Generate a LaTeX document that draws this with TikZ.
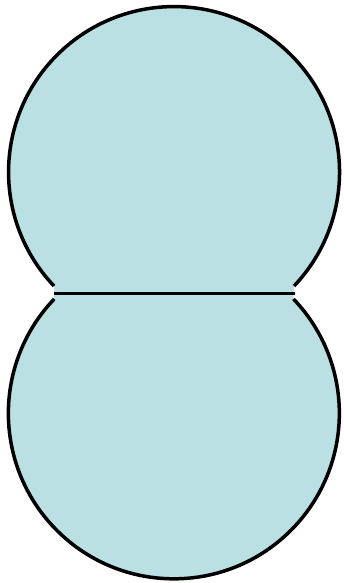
\documentclass[tikz,border=0pt]{standalone}
\definecolor{cellblue}{RGB}{186,224,227}
\begin{document}
\begin{tikzpicture}[x=1pt,y=1pt,
  outline/.style={draw=black,line width=3.5pt},
  cellfill/.style={fill=cellblue}]
\useasboundingbox (0,0) rectangle (344,583);
\coordinate (tl) at (54,297);
\coordinate (tr) at (294,297);
\coordinate (bl) at (54.5,284);
\coordinate (br) at (293.5,284);
\coordinate (ml) at (54,289.5);
\coordinate (mr) at (295,289.5);
\fill[cellfill] (tl) arc[start angle=223.5, end angle=-43.5, radius=165.5]
  -- (br) arc[start angle=43.7, end angle=-223.7, radius=165.5] -- cycle;
\draw[outline] (tl) arc[start angle=223.5, end angle=-43.5, radius=165.5];
\draw[outline] (br) arc[start angle=43.7, end angle=-223.7, radius=165.5];
\draw[outline] (ml) -- (mr);
\end{tikzpicture}
\end{document}
